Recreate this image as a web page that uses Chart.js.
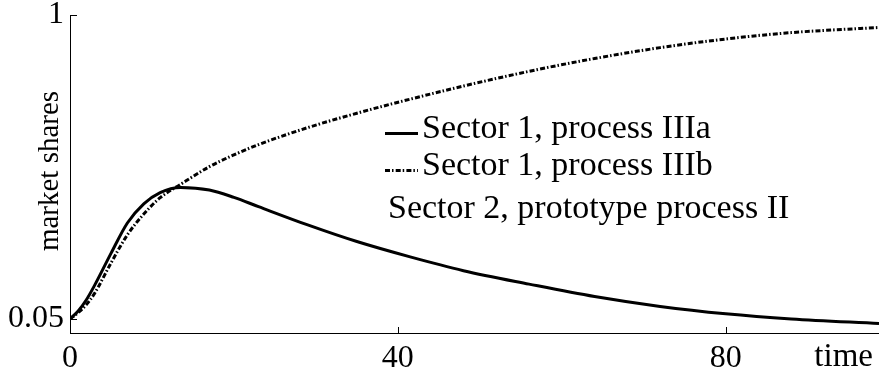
<!DOCTYPE html>
<html>
<head>
<meta charset="utf-8">
<script src="https://cdn.jsdelivr.net/npm/chart.js@4.4.1/dist/chart.umd.min.js"></script>
<style>
  body { margin: 0; background: #fff; }
  #wrap { width: 879px; height: 372px; position: relative; }
</style>
</head>
<body>
<div id="wrap"><canvas id="sharesChart"></canvas></div>
<script>
// time grid and market shares of the two sector 1 processes
const timeSteps = [0, 1, 2, 3, 5, 7, 9, 11, 13.5, 17, 20, 23, 29, 35, 41.5, 48, 56, 64, 72, 80, 88, 98.7];
const shareIIIa = [0.05, 0.075, 0.11, 0.155, 0.255, 0.35, 0.41, 0.445, 0.461, 0.453, 0.43, 0.401, 0.344, 0.292, 0.244, 0.201, 0.159, 0.12, 0.089, 0.066, 0.05, 0.036];
const shareIIIb = [0.05, 0.07, 0.095, 0.13, 0.225, 0.313, 0.378, 0.429, 0.471, 0.526, 0.563, 0.595, 0.648, 0.693, 0.737, 0.778, 0.824, 0.864, 0.898, 0.925, 0.945, 0.961];

const xTickValues = [0, 40, 80];
const yTickValues = [0.05, 1];

const legendLabels = ["Sector 1, process IIIa", "Sector 1, process IIIb", "Sector 2, prototype process II"];

const serif = "'Liberation Serif', 'Times New Roman', serif";
const dashIIIb = [5, 2, 1.5, 2.2];

function toPoints(xs, ys) {
  return xs.map((x, i) => ({ x: x, y: ys[i] }));
}

// inward tick marks, axis captions and the text legend
const decorations = {
  id: "decorations",
  afterDraw(chart) {
    const ctx = chart.ctx;
    const xs = chart.scales.x;
    const ys = chart.scales.y;
    const area = chart.chartArea;

    ctx.save();
    ctx.strokeStyle = "#000";
    ctx.lineWidth = 1;
    ctx.beginPath();
    for (const v of xTickValues) {
      const px = Math.round(xs.getPixelForValue(v)) + 0.5;
      ctx.moveTo(px, area.bottom);
      ctx.lineTo(px, area.bottom - 6);
    }
    for (const v of yTickValues) {
      const py = Math.round(ys.getPixelForValue(v)) + 0.5;
      ctx.moveTo(area.left, py);
      ctx.lineTo(area.left + 7, py);
    }
    ctx.stroke();

    ctx.fillStyle = "#000";
    ctx.font = "33px " + serif;
    ctx.textAlign = "right";
    ctx.textBaseline = "alphabetic";
    ctx.fillText("time", 873, 366);

    ctx.save();
    ctx.translate(58, 171);
    ctx.rotate(-Math.PI / 2);
    ctx.font = "29px " + serif;
    ctx.textAlign = "center";
    ctx.fillText("market shares", 0, 0);
    ctx.restore();

    // legend rows
    ctx.font = "34px " + serif;
    ctx.textAlign = "left";
    ctx.lineWidth = 3;
    ctx.beginPath();
    ctx.moveTo(385, 133.5);
    ctx.lineTo(418, 133.5);
    ctx.stroke();
    ctx.setLineDash(dashIIIb);
    ctx.beginPath();
    ctx.moveTo(385, 170.5);
    ctx.lineTo(418, 170.5);
    ctx.stroke();
    ctx.setLineDash([]);
    ctx.fillText(legendLabels[0], 422, 138);
    ctx.fillText(legendLabels[1], 422, 175);
    ctx.fillText(legendLabels[2], 388, 218);
    ctx.restore();
  }
};

const ctx = document.getElementById("sharesChart").getContext("2d");
new Chart(ctx, {
  type: "line",
  data: {
    datasets: [
      {
        label: legendLabels[0],
        data: toPoints(timeSteps, shareIIIa),
        borderColor: "#000",
        borderWidth: 3,
        pointRadius: 0,
        cubicInterpolationMode: "monotone",
        fill: false,
      },
      {
        label: legendLabels[1],
        data: toPoints(timeSteps, shareIIIb),
        borderColor: "#000",
        borderWidth: 3,
        borderDash: dashIIIb,
        pointRadius: 0,
        cubicInterpolationMode: "monotone",
        fill: false,
      },
    ],
  },
  options: {
    responsive: true,
    maintainAspectRatio: false,
    animation: false,
    layout: { padding: { top: 15, right: 0, left: 0, bottom: 0 } },
    plugins: {
      legend: { display: false },
      tooltip: { enabled: false },
    },
    scales: {
      x: {
        type: "linear",
        min: 0,
        max: 98.7,
        afterFit(scale) {
          scale.height = 39;
          scale.paddingLeft = 0;
          scale.paddingRight = 0;
        },
        afterBuildTicks(scale) { scale.ticks = xTickValues.map((v) => ({ value: v })); },
        grid: { display: false, drawTicks: false },
        border: { display: true, color: "#000", width: 1 },
        ticks: {
          color: "#000",
          padding: 6,
          maxRotation: 0,
          font: { family: serif, size: 32 },
          callback: (v) => String(v),
        },
      },
      y: {
        type: "linear",
        min: 0.0062,
        max: 1,
        afterFit(scale) {
          scale.width = 70;
          scale.paddingTop = 0;
          scale.paddingBottom = 0;
        },
        afterBuildTicks(scale) { scale.ticks = yTickValues.map((v) => ({ value: v })); },
        grid: { display: false, drawTicks: false },
        border: { display: true, color: "#000", width: 1 },
        ticks: {
          color: "#000",
          padding: 6,
          font: { family: serif, size: 32 },
          callback: (v) => String(v),
        },
      },
    },
  },
  plugins: [decorations],
});
</script>
</body>
</html>
